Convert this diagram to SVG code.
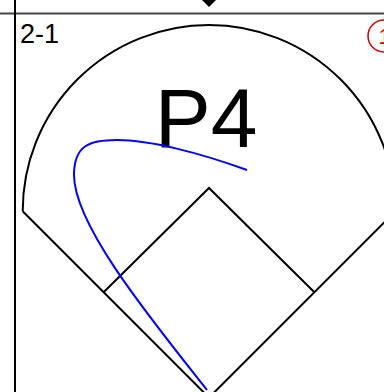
<svg xmlns="http://www.w3.org/2000/svg" width="384" height="392" viewBox="0 0 384 392">
<style>
.ln{fill:none;stroke:#000;stroke-width:2}
.t{font-family:"Liberation Sans",Arial,sans-serif;fill:#000}
</style>
<rect width="384" height="392" fill="#fff"/>
<g id="frame">
<line x1="0" y1="13.5" x2="384" y2="13.5" stroke="#444" stroke-width="2.2"/>
<line x1="15" y1="0" x2="15" y2="392" stroke="#000" stroke-width="2"/>
<polygon points="200,-2 218,-2 209,7" fill="#000"/>
</g>
<g id="field">
<path class="ln" d="M22.7,211.3 A186.3,186.3 0 0 1 395.3,211.3"/>
<path class="ln" d="M22.7,211.3 L209,397.6 L395.3,211.3"/>
<path class="ln" d="M103.6,292.2 L209,188 L314.4,292.2"/>
</g>
<g id="label-count"><text class="t" x="20" y="43" font-size="27">2-1</text></g>
<g id="label-p4"><text class="t" x="206" y="147" font-size="84" text-anchor="middle">P4</text></g>
<g id="badge">
<circle cx="384" cy="36" r="16" fill="none" stroke="#cc0000" stroke-width="1.5"/>
<text x="378.5" y="44" font-size="22" font-family="Liberation Sans,Arial,sans-serif" fill="#cc0000">1</text>
</g>
<g id="connectors">
<path d="M207,390 C150,318 74,225 74,175 C74,145 90,140 117,140 C150,140 200,153 247,170" fill="none" stroke="#0000ff" stroke-width="2"/>
</g>
</svg>
